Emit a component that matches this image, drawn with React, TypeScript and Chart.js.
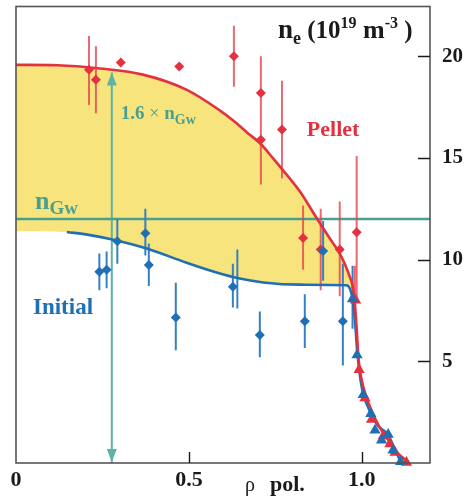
import { useEffect, useRef } from "react";
import { Chart, registerables } from "chart.js";

Chart.register(...registerables);

const W = 472;
const H = 503;

// Axis ranges and ticks
const RHO_MAX = 1.197;
const NE_MAX = 22.45;
const xTickValues = [0, 0.5, 1.0];
const xTickLabels = ["0", "0.5", "1.0"];
const yTickValues = [5, 10, 15, 20];

// Greenwald density and the 1.6 × n_Gw marker
const N_GW = 12;
const GW_FACTOR = 1.6;
const ARROW_RHO = 0.277;

// Fitted density profiles
const pelletFitRho = [0, 0.12, 0.243, 0.367, 0.494, 0.59, 0.628, 0.667, 0.707, 0.744, 0.768, 0.821, 0.869, 0.905, 0.936, 0.962, 0.978, 0.985, 0.99, 0.998, 1.012, 1.03, 1.05, 1.075, 1.1, 1.135];
const pelletFitNe = [19.58, 19.56, 19.4, 19.1, 18.35, 17.33, 16.84, 16.27, 15.7, 14.97, 14.48, 13.35, 12.05, 11.1, 10.3, 9.3, 8.2, 6.6, 5.2, 4.2, 3.3, 2.5, 1.8, 1.15, 0.55, 0.03];
const initialFitRho = [0.147, 0.21, 0.272, 0.378, 0.493, 0.58, 0.647, 0.715, 0.821, 0.955, 0.966, 0.973, 0.98, 0.987, 0.996, 1.004, 1.026, 1.047, 1.075, 1.095, 1.112];
const initialFitNe = [11.36, 11.22, 11.02, 10.55, 9.85, 9.37, 9.07, 8.88, 8.77, 8.74, 8.55, 8.07, 7.0, 5.4, 4.1, 3.4, 2.45, 1.82, 1.4, 0.7, 0.06];

// Shaded band between the two fits
const bandCoreNe = 11.4;
const bandEndRho = 0.978;
const bandEndNe = 8.2;

// Core measurements (diamonds) and their error bars
const pelletPointRho = [0.211, 0.231, 0.303, 0.472, 0.63, 0.708, 0.708, 0.769, 0.83, 0.881, 0.936, 0.985];
const pelletPointNe = [19.34, 18.85, 19.7, 19.5, 20.0, 18.2, 15.9, 16.4, 11.06, 10.5, 10.5, 11.35];
const pelletBarRho = [0.211, 0.231, 0.63, 0.708, 0.708, 0.769, 0.83, 0.881, 0.936, 0.985, 0.979];
const pelletBarLow = [17.6, 17.2, 18.5, 16.6, 13.7, 14.0, 9.5, 8.5, 8.2, 8.0, 8.0];
const pelletBarHigh = [21.0, 20.5, 21.5, 20.0, 17.4, 18.8, 12.66, 12.5, 12.86, 15.1, 9.7];

const initialPointRho = [0.241, 0.262, 0.293, 0.374, 0.384, 0.462, 0.627, 0.705, 0.835, 0.888, 0.945];
const initialPointNe = [9.4, 9.5, 10.9, 11.3, 9.74, 7.16, 8.67, 6.3, 6.97, 10.42, 6.97];
const initialBarRho = [0.241, 0.262, 0.293, 0.374, 0.384, 0.462, 0.627, 0.64, 0.705, 0.835, 0.888, 0.945, 0.973];
const initialBarLow = [8.5, 8.6, 9.8, 10.2, 8.7, 5.55, 7.65, 7.6, 5.2, 5.65, 8.96, 4.8, 6.6];
const initialBarHigh = [10.3, 10.4, 12.0, 12.5, 10.8, 8.87, 9.8, 10.5, 7.45, 8.3, 11.9, 9.8, 9.7];

// Edge measurements (triangles)
const edgeInitialRho = [0.973, 0.986, 1.004, 1.026, 1.038, 1.057, 1.076, 1.09, 1.112];
const edgeInitialNe = [8.07, 5.31, 3.36, 2.42, 1.61, 1.12, 1.4, 0.63, 0.06];
const edgePelletRho = [0.982, 0.992, 1.009, 1.028, 1.062, 1.081, 1.096, 1.129];
const edgePelletNe = [8.0, 4.58, 3.2, 2.14, 1.33, 0.93, 0.52, 0.03];

const SERIF = '"Liberation Serif", "Times New Roman", serif';
const RED = "#e2323f";
const RED_BAR = "rgba(230, 62, 74, 0.78)";
const BLUE = "#1f6fb5";
const BLUE_BAR = "#3580c4";
const TEAL = "#4aa090";
const TEAL_ARROW = "#5cb3a6";
const YELLOW = "#f8e47d";
const INK = "#1a1a1a";

type P = { x: number; y: number | null };
const pts = (xs: number[], ys: number[]): P[] => xs.map((x, i) => ({ x, y: ys[i] }));
const bars = (xs: number[], lo: number[], hi: number[]): P[] =>
  xs.flatMap((x, i) => [
    { x, y: lo[i] },
    { x, y: hi[i] },
    { x, y: null },
  ]);

const bandTop: P[] = [
  ...pts(pelletFitRho, pelletFitNe).filter((p) => p.x < bandEndRho),
  { x: bandEndRho, y: bandEndNe },
];
const bandFloor: P[] = [
  { x: 0, y: bandCoreNe },
  ...pts(initialFitRho, initialFitNe).filter((p) => p.x < 0.97),
  { x: bandEndRho, y: bandEndNe },
];

type Part = [string, number, number, string?];
function drawRich(ctx: CanvasRenderingContext2D, x: number, y: number, parts: Part[], color: string) {
  let cx = x;
  ctx.fillStyle = color;
  ctx.textAlign = "left";
  ctx.textBaseline = "alphabetic";
  for (const [t, size, dy, weight] of parts) {
    ctx.font = `${weight ?? "bold"} ${size}px ${SERIF}`;
    ctx.fillText(t, cx, y + dy);
    cx += ctx.measureText(t).width;
  }
}

const decor = {
  id: "decor",
  afterDatasetsDraw(chart: any) {
    const { ctx, chartArea: a, scales } = chart;
    const xs = scales.x;
    const ys = scales.y;
    ctx.save();

    // arrow heads for 0 → 1.6 n_Gw
    const ax = xs.getPixelForValue(ARROW_RHO);
    const aTop = ys.getPixelForValue(GW_FACTOR * N_GW);
    const aBot = ys.getPixelForValue(0);
    ctx.fillStyle = TEAL_ARROW;
    ctx.beginPath();
    ctx.moveTo(ax, aTop);
    ctx.lineTo(ax - 5, aTop + 13);
    ctx.lineTo(ax + 5, aTop + 13);
    ctx.closePath();
    ctx.fill();
    ctx.beginPath();
    ctx.moveTo(ax, aBot - 1);
    ctx.lineTo(ax - 5, aBot - 14);
    ctx.lineTo(ax + 5, aBot - 14);
    ctx.closePath();
    ctx.fill();

    // frame
    ctx.strokeStyle = "#555";
    ctx.lineWidth = 1.6;
    ctx.strokeRect(a.left, a.top, a.right - a.left, a.bottom - a.top);

    // inward tick marks
    ctx.strokeStyle = INK;
    ctx.lineWidth = 1.4;
    ctx.beginPath();
    for (const v of xTickValues) {
      if (v === 0) continue;
      const px = Math.round(xs.getPixelForValue(v)) + 0.5;
      ctx.moveTo(px, a.bottom);
      ctx.lineTo(px, a.bottom - 11);
    }
    for (const v of yTickValues) {
      const py = Math.round(ys.getPixelForValue(v)) + 0.5;
      ctx.moveTo(a.right, py);
      ctx.lineTo(a.right - 12, py);
    }
    ctx.stroke();

    // labels
    const gwY = ys.getPixelForValue(N_GW);
    drawRich(ctx, xs.getPixelForValue(0.055), gwY - 10, [["n", 26, 0], ["Gw", 19, 5]], TEAL);
    drawRich(
      ctx,
      ax + 9,
      ys.getPixelForValue(16.9),
      [["1.6 ", 19, 0], ["\u00d7", 18, 0, "normal"], [" n", 19, 0], ["Gw", 14, 5]],
      TEAL
    );
    drawRich(ctx, xs.getPixelForValue(0.841), ys.getPixelForValue(16.1), [["Pellet", 22, 0]], RED);
    drawRich(ctx, xs.getPixelForValue(0.049), ys.getPixelForValue(7.35), [["Initial", 23, 0]], BLUE);

    // axis titles
    drawRich(
      ctx,
      a.right - 152,
      a.top + 31,
      [["n", 27, 0], ["e", 18, 6], [" (10", 25, 0], ["19", 16, -10], [" m", 26, 0], ["-3", 16, -10], [" )", 25, 0]],
      INK
    );
    drawRich(ctx, a.left + 229, a.bottom + 28, [["\u03c1", 20, 0, "normal"]], INK);
    drawRich(ctx, a.left + 254, a.bottom + 28, [["pol.", 22, 0]], INK);

    ctx.restore();
  },
};

export default function App() {
  const ref = useRef<HTMLCanvasElement>(null);

  useEffect(() => {
    document.body.style.margin = "0";
    const canvas = ref.current!;
    const curve = { pointRadius: 0, borderWidth: 2.6, cubicInterpolationMode: "monotone" as const, fill: false };
    const chart = new Chart(canvas, {
      type: "line",
      data: {
        datasets: [
          { data: pts(edgeInitialRho, edgeInitialNe), showLine: false, pointStyle: "triangle", pointRadius: 6.5, pointBackgroundColor: BLUE, pointBorderWidth: 0, clip: false },
          { data: pts(edgePelletRho, edgePelletNe), showLine: false, pointStyle: "triangle", pointRadius: 6.5, pointBackgroundColor: RED, pointBorderWidth: 0, clip: false },
          { data: pts(initialPointRho, initialPointNe), showLine: false, pointStyle: "rectRot", pointRadius: 5, pointBackgroundColor: BLUE, pointBorderWidth: 0 },
          { data: pts(pelletPointRho, pelletPointNe), showLine: false, pointStyle: "rectRot", pointRadius: 5, pointBackgroundColor: RED, pointBorderWidth: 0 },
          { data: pts(pelletFitRho, pelletFitNe), borderColor: RED, ...curve, clip: false },
          { data: pts(initialFitRho, initialFitNe), borderColor: BLUE, ...curve, clip: false },
          { data: bars(initialBarRho, initialBarLow, initialBarHigh), borderColor: BLUE_BAR, borderWidth: 2, pointRadius: 0, spanGaps: false, fill: false },
          { data: bars(pelletBarRho, pelletBarLow, pelletBarHigh), borderColor: RED_BAR, borderWidth: 2, pointRadius: 0, spanGaps: false, fill: false },
          { data: [{ x: 0, y: N_GW }, { x: RHO_MAX, y: N_GW }], borderColor: TEAL, borderWidth: 2.6, pointRadius: 0, fill: false },
          { data: [{ x: ARROW_RHO, y: 0 }, { x: ARROW_RHO, y: GW_FACTOR * N_GW }], borderColor: TEAL_ARROW, borderWidth: 2, pointRadius: 0, fill: false },
          { data: bandTop, borderWidth: 0, borderColor: "transparent", pointRadius: 0, cubicInterpolationMode: "monotone", fill: { target: 11 }, backgroundColor: YELLOW },
          { data: bandFloor, borderWidth: 0, borderColor: "transparent", pointRadius: 0, cubicInterpolationMode: "monotone", fill: false },
        ] as any,
      },
      options: {
        responsive: false,
        animation: false,
        events: [],
        layout: { padding: { left: 16, top: 3, right: 0, bottom: 0 } },
        plugins: { legend: { display: false }, tooltip: { enabled: false } },
        scales: {
          x: {
            type: "linear",
            position: "bottom",
            min: 0,
            max: RHO_MAX,
            grid: { display: false, drawTicks: false },
            border: { display: false },
            afterBuildTicks: (s: any) => {
              s.ticks = xTickValues.map((value) => ({ value }));
            },
            afterFit: (s: any) => {
              s.height = 40;
              s.paddingLeft = 0;
              s.paddingRight = 0;
              s.paddingTop = 0;
              s.paddingBottom = 0;
            },
            ticks: {
              autoSkip: false,
              maxRotation: 0,
              padding: 4,
              color: INK,
              font: { family: SERIF, size: 22, weight: "bold" },
              callback: (_v: any, i: number) => xTickLabels[i],
            },
          },
          y: {
            type: "linear",
            position: "right",
            min: 0,
            max: NE_MAX,
            grid: { display: false, drawTicks: false },
            border: { display: false },
            afterBuildTicks: (s: any) => {
              s.ticks = yTickValues.map((value) => ({ value }));
            },
            afterFit: (s: any) => {
              s.width = 42;
              s.paddingLeft = 0;
              s.paddingRight = 0;
              s.paddingTop = 0;
              s.paddingBottom = 0;
            },
            ticks: {
              padding: 12,
              color: INK,
              font: { family: SERIF, size: 21, weight: "bold" },
              callback: (v: any) => String(v),
            },
          },
        },
      },
      plugins: [decor],
    });
    return () => chart.destroy();
  }, []);

  return (
    <div style={{ width: W, height: H }}>
      <canvas ref={ref} width={W} height={H} style={{ display: "block" }} />
    </div>
  );
}
